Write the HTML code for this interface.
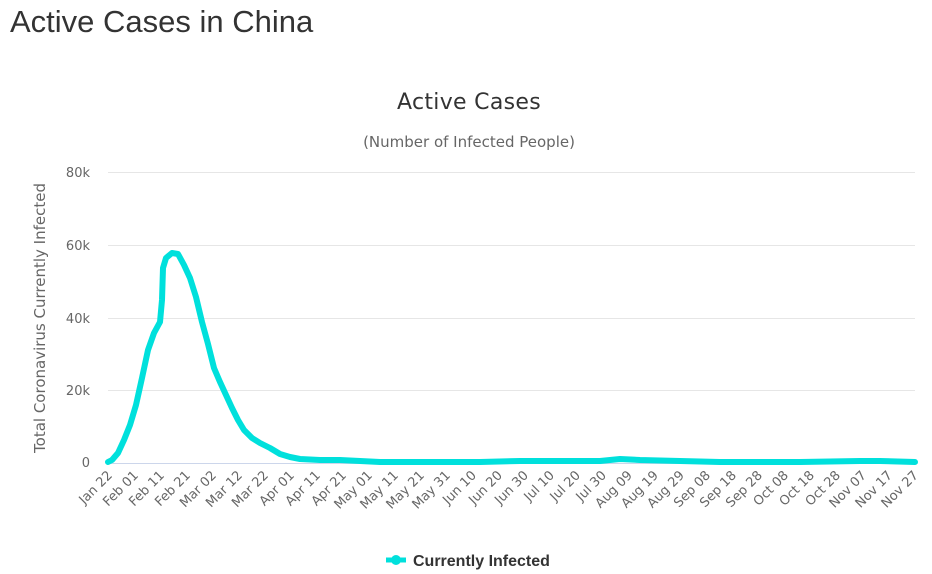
<!DOCTYPE html>
<html><head><style>
body{margin:0;background:#fff;width:932px;height:574px;overflow:hidden;font-family:"Liberation Sans",sans-serif}
</style></head><body>
<svg width="932" height="574" xmlns="http://www.w3.org/2000/svg" style="position:absolute;left:0;top:0">
<text x="10" y="32" font-size="31" fill="#333" font-family="Liberation Sans">Active Cases in China</text>
<text x="469" y="109" font-size="22" fill="#333" text-anchor="middle" font-family="DejaVu Sans" letter-spacing="0.3">Active Cases</text>
<text x="469" y="147" font-size="15" fill="#666" text-anchor="middle" font-family="DejaVu Sans">(Number of Infected People)</text>
<g stroke="#e6e6e6" stroke-width="1">
<line x1="108" y1="172.5" x2="915" y2="172.5"/><line x1="108" y1="245.5" x2="915" y2="245.5"/>
<line x1="108" y1="318.5" x2="915" y2="318.5"/><line x1="108" y1="390.5" x2="915" y2="390.5"/>
</g>
<line x1="108" y1="463.5" x2="915" y2="463.5" stroke="#ccd6eb"/>
<g font-size="13" fill="#666" text-anchor="end" font-family="DejaVu Sans">
<text x="90" y="177">80k</text><text x="90" y="250">60k</text><text x="90" y="323">40k</text><text x="90" y="395">20k</text><text x="90" y="467">0</text>
</g>
<text transform="translate(45,318) rotate(-90)" font-size="15" fill="#666" text-anchor="middle" font-family="DejaVu Sans">Total Coronavirus Currently Infected</text>
<polyline fill="none" stroke="#00e0dc" stroke-width="6" stroke-linejoin="round" stroke-linecap="round" points="108,462 112,460 118,453 124,440 130,425 136,405 142,378 148,350 154,333 160,322 162,300 163,268 166,258 172,253 178,254 184,265 190,278 196,297 202,322 208,344 214,368 220,382 226,395 232,408 238,420 244,430 252,438 260,443 270,448 280,454 290,457 300,459 320,460 330,460 340,460 360,461 380,462 420,462 480,462 520,461 560,461 600,461 620,459 640,460 680,461 720,462 800,462 860,461 880,461 915,462"/>
<g font-size="13" fill="#666" text-anchor="end" font-family="DejaVu Sans" id="xl"></g>
<line x1="386" y1="560" x2="406" y2="560" stroke="#00e0dc" stroke-width="5"/>
<circle cx="396" cy="560" r="5" fill="#00e0dc"/>
<text x="413" y="566" font-size="16" font-weight="bold" fill="#333" font-family="Liberation Sans">Currently Infected</text>
</svg>
<script>
var l=["Jan 22","Feb 01","Feb 11","Feb 21","Mar 02","Mar 12","Mar 22","Apr 01","Apr 11","Apr 21","May 01","May 11","May 21","May 31","Jun 10","Jun 20","Jun 30","Jul 10","Jul 20","Jul 30","Aug 09","Aug 19","Aug 29","Sep 08","Sep 18","Sep 28","Oct 08","Oct 18","Oct 28","Nov 07","Nov 17","Nov 27"];
var g=document.getElementById('xl'),s='';
for(var i=0;i<l.length;i++){var x=113+i*26.0;s+='<text transform="translate('+x+',476) rotate(-45)">'+l[i]+'</text>';}
g.innerHTML=s;
</script>
</body></html>
